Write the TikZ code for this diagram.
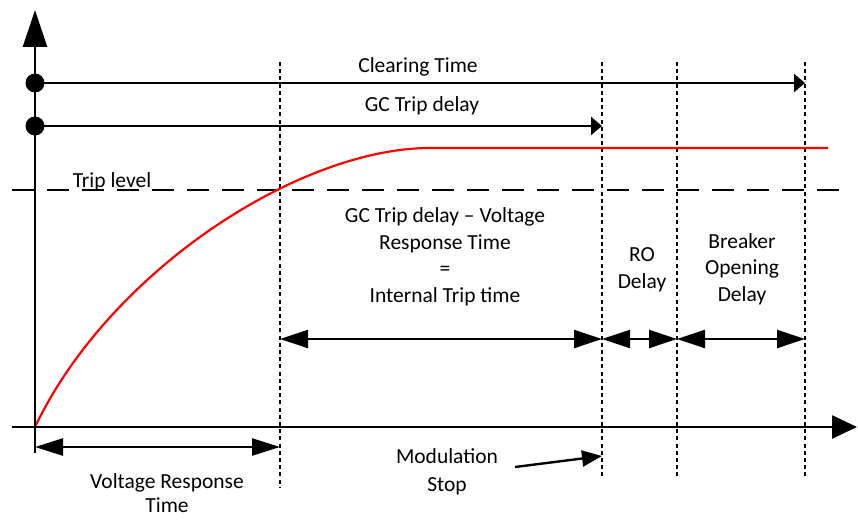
\documentclass[tikz,border=0pt]{standalone}
\usepackage{fontspec}
\setmainfont{Carlito}
\usetikzlibrary{arrows.meta}
\begin{document}
\begin{tikzpicture}[x=1pt,y=-1pt,
  lbl/.style={font=\fontsize{21.5}{26.5}\selectfont, align=center, inner sep=0pt},
  axisline/.style={line width=2.6pt},
  dotline/.style={line width=2.6pt, dash pattern=on 4pt off 3.2pt},
  spanline/.style={line width=2.4pt},
  bigtip/.style={{Triangle[length=28pt,width=18pt]}-{Triangle[length=28pt,width=18pt]}},
  smalltip/.style={-{Triangle[length=11pt,width=18pt]}},
  dot/.style={circle, fill=black, minimum size=19pt, inner sep=0pt}
]
\useasboundingbox (0,0) rectangle (858,519);

% key coordinates
\coordinate (O) at (35,427);
\coordinate (Ytop) at (35,10);
\coordinate (Ybot) at (35,453);
\coordinate (Xl) at (12,427);
\coordinate (Xr) at (857,427);
\coordinate (TLl) at (12,190);
\coordinate (TLr) at (840,190);
\coordinate (Rtop) at (430,148);
\coordinate (Rend) at (828,148);

% vertical time markers
\coordinate (A1) at (280,62);  \coordinate (A2) at (280,488);
\coordinate (B1) at (602,62);  \coordinate (B2) at (602,478);
\coordinate (C1) at (677,62);  \coordinate (C2) at (677,478);
\coordinate (D1) at (805,62);  \coordinate (D2) at (805,478);
\draw[dotline] (A1) -- (A2);
\draw[dotline] (B1) -- (B2);
\draw[dotline] (C1) -- (C2);
\draw[dotline] (D1) -- (D2);

% trip level
\draw[line width=2.6pt, dash pattern=on 22pt off 13pt] (TLl) -- (TLr);

% response curve
\draw[red, line width=2.2pt] (O) .. controls (110,270) and (300,148) .. (Rtop) -- (Rend);

% axes
\draw[axisline,-{Triangle[length=37pt,width=24pt]}] (Ybot) -- (Ytop);
\draw[axisline,-{Triangle[length=25pt,width=23pt]}] (Xl) -- (Xr);

% top arrows
\node[dot] (d1) at (35,83) {};
\node[dot] (d2) at (35,126) {};
\coordinate (ct) at (805,83);
\coordinate (gt) at (602,126);
\draw[spanline,smalltip] (d1.center) -- (ct);
\draw[spanline,smalltip] (d2.center) -- (gt);

% interval arrows
\coordinate (p1) at (280,339);
\coordinate (p2) at (602,339);
\coordinate (p3) at (677,339);
\coordinate (p4) at (805,339);
\draw[spanline,bigtip] (p1) -- (p2);
\draw[spanline,bigtip] (p2) -- (p3);
\draw[spanline,bigtip] (p3) -- (p4);
\coordinate (v1) at (35,447);
\coordinate (v2) at (280,447);
\draw[spanline,{Triangle[length=28pt,width=17pt]}-{Triangle[length=28pt,width=17pt]}] (v1) -- (v2);

% labels
\node[lbl, anchor=base] (clr) at (418,72) {Clearing Time};
\node[lbl, anchor=base] (gcd) at (422,111) {GC Trip delay};
\node[lbl, anchor=base] (trl) at (112,187) {Trip level};
\node[lbl] (itt) at (445,257) {GC Trip delay – Voltage\\Response Time\\=\\Internal Trip time};
\node[lbl] (ro) at (642,270) {RO\\Delay};
\node[lbl] (bod) at (742,269) {Breaker\\Opening\\Delay};
\node[lbl, font=\fontsize{21.5}{24}\selectfont] (vrt) at (167,493) {Voltage Response\\Time};
\node[lbl, font=\fontsize{21.5}{28}\selectfont] (mod) at (447,472) {Modulation\\Stop};

% modulation stop pointer
\coordinate (ms) at (515,467);
\coordinate (mt) at (602,456);
\draw[spanline,-{Triangle[length=20pt,width=16pt]}] (ms) -- (mt);
\end{tikzpicture}
\end{document}
